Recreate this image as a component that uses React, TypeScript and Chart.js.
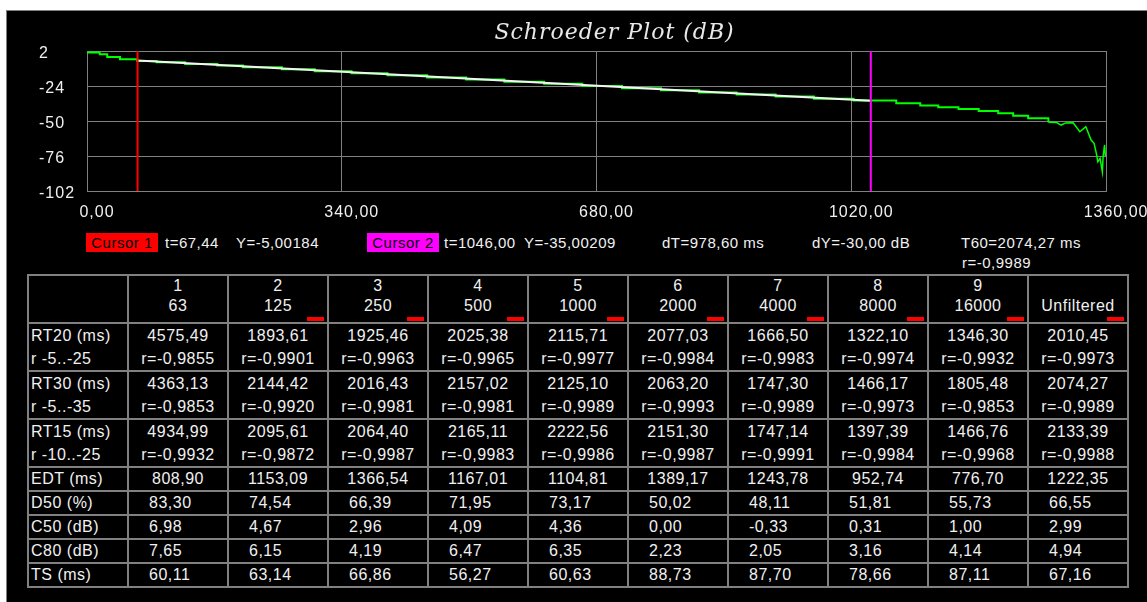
import React, { useEffect, useRef } from 'react';
import { Chart, registerables } from 'chart.js';

Chart.register(...registerables);

// ---- Chart data ----
const plotTitle = 'Schroeder Plot (dB)';
const curveT = [0, 17, 27, 44, 67, 93, 131, 174, 208, 260, 304, 353, 401, 454, 506, 557, 610, 661, 714, 766, 817, 867, 919, 970, 1023, 1080, 1112, 1136, 1163, 1190, 1216, 1236, 1256, 1283];
const curveDb = [0.8, -0.5, -2.5, -4.2, -5.39, -6.37, -7.61, -8.79, -10.11, -11.58, -13.0, -14.49, -16.04, -17.65, -19.23, -20.82, -22.42, -24.01, -25.62, -27.2, -28.75, -30.31, -31.89, -33.48, -34.8, -36.9, -38.4, -39.8, -41.1, -42.6, -44.3, -46.1, -48.0, -51.0];
const tailT = [1283, 1294, 1300, 1306, 1316, 1325, 1333, 1340, 1344, 1347, 1349, 1352, 1355, 1356, 1358, 1359];
const tailDb = [-51.0, -51.2, -53.0, -51.4, -51.3, -58.0, -54.2, -64.1, -66.6, -74.0, -80.3, -77.7, -87.7, -76.5, -67.8, -76.0];
const xTicks = [0, 340, 680, 1020, 1360];
const yTicks = [2, -24, -50, -76, -102];

const cursor1 = { t: 67.44, y: -5.00184 };
const cursor2 = { t: 1046.0, y: -35.00209 };
const deltaT = 978.6;
const deltaY = -30.0;
const t60 = 2074.27;
const t60r = -0.9989;

// ---- Table data ----
const bandNums = ['1', '2', '3', '4', '5', '6', '7', '8', '9', ''];
const bandFreqs = ['63', '125', '250', '500', '1000', '2000', '4000', '8000', '16000', 'Unfiltered'];
const rt20 = [4575.49, 1893.61, 1925.46, 2025.38, 2115.71, 2077.03, 1666.5, 1322.1, 1346.3, 2010.45];
const rt20r = [-0.9855, -0.9901, -0.9963, -0.9965, -0.9977, -0.9984, -0.9983, -0.9974, -0.9932, -0.9973];
const rt30 = [4363.13, 2144.42, 2016.43, 2157.02, 2125.1, 2063.2, 1747.3, 1466.17, 1805.48, 2074.27];
const rt30r = [-0.9853, -0.992, -0.9981, -0.9981, -0.9989, -0.9993, -0.9989, -0.9973, -0.9853, -0.9989];
const rt15 = [4934.99, 2095.61, 2064.4, 2165.11, 2222.56, 2151.3, 1747.14, 1397.39, 1466.76, 2133.39];
const rt15r = [-0.9932, -0.9872, -0.9987, -0.9983, -0.9986, -0.9987, -0.9991, -0.9984, -0.9968, -0.9988];
const edt = [808.9, 1153.09, 1366.54, 1167.01, 1104.81, 1389.17, 1243.78, 952.74, 776.7, 1222.35];
const d50 = [83.3, 74.54, 66.39, 71.95, 73.17, 50.02, 48.11, 51.81, 55.73, 66.55];
const c50 = [6.98, 4.67, 2.96, 4.09, 4.36, 0.0, -0.33, 0.31, 1.0, 2.99];
const c80 = [7.65, 6.15, 4.19, 6.47, 6.35, 2.23, 2.05, 3.16, 4.14, 4.94];
const ts = [60.11, 63.14, 66.86, 56.27, 60.63, 88.73, 87.7, 78.66, 87.11, 67.16];

const FONT = '"Liberation Sans", Arial, sans-serif';
const TXT = '#f0f0f0';
const GRID = '#808080';

const fmt = (v: number, d: number) => v.toFixed(d).replace('.', ',');
const fr = (v: number) => 'r=' + fmt(v, 4);

const titlePlugin = {
  id: 'plotTitleDraw',
  beforeDraw(chart: any) {
    chart.ctx.letterSpacing = '1px';
  },
  afterDraw(chart: any) {
    const { ctx, chartArea } = chart;
    ctx.save();
    ctx.letterSpacing = '1px';
    ctx.font = 'italic 22px "DejaVu Serif"';
    ctx.fillStyle = '#e8e8e8';
    ctx.textAlign = 'center';
    ctx.textBaseline = 'middle';
    ctx.fillText(plotTitle, (chartArea.left + chartArea.right) / 2 + 18, chartArea.top - 18);
    ctx.restore();
  },
};

function SchroederChart() {
  const ref = useRef<HTMLCanvasElement | null>(null);
  useEffect(() => {
    if (!ref.current) return;
    const curve = curveT.map((t, i) => ({ x: t, y: curveDb[i] }));
    const tail = tailT.map((t, i) => ({ x: t, y: tailDb[i] }));
    const yMax = yTicks[0];
    const yMin = yTicks[yTicks.length - 1];
    const tickFont = { family: FONT, size: 16 };
    const chart = new Chart(ref.current, {
      type: 'line',
      data: {
        datasets: [
          { label: 'Cursor 1', data: [{ x: cursor1.t, y: yMax }, { x: cursor1.t, y: yMin }], borderColor: '#ff0000', borderWidth: 2, pointRadius: 0, order: 0 },
          { label: 'Cursor 2', data: [{ x: cursor2.t, y: yMax }, { x: cursor2.t, y: yMin }], borderColor: '#ff00ff', borderWidth: 2, pointRadius: 0, order: 0 },
          { label: 'Fit', data: [{ x: cursor1.t, y: cursor1.y }, { x: cursor2.t, y: cursor2.y }], borderColor: '#f4f4f4', borderWidth: 2, pointRadius: 0, order: 1 },
          { label: 'Schroeder', data: curve, stepped: true, borderColor: '#00ff00', borderWidth: 2, pointRadius: 0, order: 2 },
          { label: 'Tail', data: tail, borderColor: '#00ff00', borderWidth: 1.5, pointRadius: 0, order: 2 },
        ],
      },
      options: {
        animation: false,
        responsive: false,
        maintainAspectRatio: false,
        devicePixelRatio: 1,
        events: [],
        layout: { padding: { left: 33, top: 41, right: 39, bottom: 0 } },
        plugins: { legend: { display: false }, tooltip: { enabled: false }, title: { display: false } },
        scales: {
          x: {
            type: 'linear',
            min: xTicks[0],
            max: xTicks[xTicks.length - 1],
            afterBuildTicks: (s: any) => { s.ticks = xTicks.map((v) => ({ value: v })); },
            afterFit: (s: any) => { s.height = 39; },
            grid: { color: GRID, lineWidth: 1, drawTicks: false },
            border: { color: GRID, width: 1 },
            ticks: { color: TXT, font: tickFont, padding: 12, labelOffset: 10, maxRotation: 0, autoSkip: false, callback: (v: any) => fmt(Number(v), 2) },
          },
          y: {
            type: 'linear',
            min: yMin,
            max: yMax,
            afterBuildTicks: (s: any) => { s.ticks = yTicks.map((v) => ({ value: v })); },
            afterFit: (s: any) => { s.width = 48; },
            grid: { color: GRID, lineWidth: 1, drawTicks: false },
            border: { color: GRID, width: 1 },
            ticks: { color: TXT, font: tickFont, padding: 0, crossAlign: 'far', labelOffset: 3, autoSkip: false, callback: (v: any) => String(v) },
          },
        },
      },
      plugins: [titlePlugin],
    } as any);
    return () => chart.destroy();
  }, []);
  return <canvas ref={ref} width={1141} height={220} style={{ position: 'absolute', left: 0, top: 0, display: 'block' }} />;
}

const cellBase: React.CSSProperties = {
  background: '#000',
  color: TXT,
  fontFamily: FONT,
  fontSize: 16,
  letterSpacing: '0.5px',
  whiteSpace: 'nowrap',
  overflow: 'hidden',
  position: 'relative',
};

function ResultTable() {
  const cells: React.ReactNode[] = [];
  let k = 0;
  // Header
  cells.push(<div key={k++} style={cellBase} />);
  bandFreqs.forEach((f, i) => {
    cells.push(
      <div key={k++} style={{ ...cellBase, textAlign: 'center' }}>
        <div style={{ lineHeight: '20px', height: 20 }}>{bandNums[i]}</div>
        <div style={{ lineHeight: '20px', height: 20 }}>{f}</div>
        {i > 0 && <div style={{ position: 'absolute', right: 3, bottom: 1, width: 17, height: 4, background: '#ff0000' }} />}
      </div>
    );
  });
  const dbl = (l1: string, l2: string, vals: number[], rs: number[]) => {
    cells.push(
      <div key={k++} style={{ ...cellBase, paddingLeft: 2 }}>
        <div style={{ lineHeight: '23px' }}>{l1}</div>
        <div style={{ lineHeight: '23px' }}>{l2}</div>
      </div>
    );
    vals.forEach((v, i) => {
      cells.push(
        <div key={k++} style={{ ...cellBase, textAlign: 'center' }}>
          <div style={{ lineHeight: '23px' }}>{fmt(v, 2)}</div>
          <div style={{ lineHeight: '23px' }}>{fr(rs[i])}</div>
        </div>
      );
    });
  };
  const single = (label: string, vals: number[], centered: boolean) => {
    cells.push(<div key={k++} style={{ ...cellBase, paddingLeft: 2, lineHeight: '22px' }}>{label}</div>);
    vals.forEach((v) => {
      cells.push(
        <div key={k++} style={{ ...cellBase, lineHeight: '22px', textAlign: centered ? 'center' : 'left', paddingLeft: centered ? 0 : 20 }}>{fmt(v, 2)}</div>
      );
    });
  };
  dbl('RT20 (ms)', 'r -5..-25', rt20, rt20r);
  dbl('RT30 (ms)', 'r -5..-35', rt30, rt30r);
  dbl('RT15 (ms)', 'r -10..-25', rt15, rt15r);
  single('EDT (ms)', edt, true);
  single('D50 (%)', d50, false);
  single('C50 (dB)', c50, false);
  single('C80 (dB)', c80, false);
  single('TS (ms)', ts, false);
  return (
    <div
      style={{
        position: 'absolute',
        left: 21,
        top: 264,
        display: 'grid',
        gridTemplateColumns: 'repeat(11, 98px)',
        gridTemplateRows: '46px 46px 46px 46px 22px 22px 22px 22px 22px',
        gap: 2,
        padding: 2,
        background: GRID,
        boxSizing: 'content-box',
      }}
    >
      {cells}
    </div>
  );
}

const info: React.CSSProperties = {
  position: 'absolute',
  top: 223,
  lineHeight: '20px',
  fontFamily: FONT,
  fontSize: 15,
  letterSpacing: '0.5px',
  color: TXT,
  whiteSpace: 'nowrap',
};

const box: React.CSSProperties = {
  position: 'absolute',
  top: 223,
  width: 72,
  height: 19,
  lineHeight: '19px',
  textAlign: 'center',
  fontFamily: FONT,
  fontSize: 15,
  letterSpacing: '0.5px',
  color: '#000',
  whiteSpace: 'nowrap',
};

export default function App() {
  return (
    <div
      style={{
        position: 'absolute',
        left: 6,
        top: 10,
        width: 1141,
        height: 592,
        background: '#000',
        boxShadow: `inset 1px 1px 0 ${GRID}`,
        overflow: 'hidden',
      }}
    >
      <SchroederChart />
      <div style={{ ...box, left: 80, background: '#ff0000' }}>Cursor 1</div>
      <span style={{ ...info, left: 159 }}>{'t=' + fmt(cursor1.t, 2)}</span>
      <span style={{ ...info, left: 230 }}>{'Y=' + fmt(cursor1.y, 5)}</span>
      <div style={{ ...box, left: 361, background: '#ff00ff' }}>Cursor 2</div>
      <span style={{ ...info, left: 438 }}>{'t=' + fmt(cursor2.t, 2)}</span>
      <span style={{ ...info, left: 518 }}>{'Y=' + fmt(cursor2.y, 5)}</span>
      <span style={{ ...info, left: 656 }}>{'dT=' + fmt(deltaT, 2) + ' ms'}</span>
      <span style={{ ...info, left: 806 }}>{'dY=' + fmt(deltaY, 2) + ' dB'}</span>
      <span style={{ ...info, left: 955 }}>{'T60=' + fmt(t60, 2) + ' ms'}</span>
      <span style={{ ...info, left: 956, top: 243 }}>{'r=' + fmt(t60r, 4)}</span>
      <ResultTable />
    </div>
  );
}
